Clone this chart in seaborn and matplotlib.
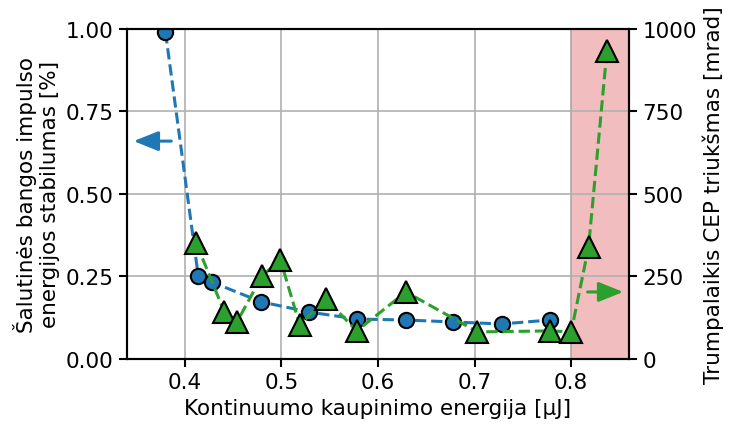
import matplotlib
matplotlib.use("Agg")
import matplotlib.pyplot as plt
import seaborn as sns
import numpy as np

# Side-wave pulse energy stability (left axis)
energy_stab = [0.38, 0.414, 0.428, 0.479, 0.529, 0.578, 0.629, 0.678, 0.728, 0.778]
stability = [0.99, 0.25, 0.233, 0.173, 0.142, 0.121, 0.118, 0.112, 0.106, 0.118]

# Short-term CEP noise (right axis)
energy_cep = [0.412, 0.441, 0.454, 0.480, 0.499, 0.519, 0.546, 0.578, 0.629,
              0.703, 0.778, 0.800, 0.818, 0.837]
cep_noise = [350, 142, 112, 252, 300, 103, 182, 85, 203, 82, 85, 82, 339, 933]

left_ticks = [0.00, 0.25, 0.50, 0.75, 1.00]
right_ticks = [0, 250, 500, 750, 1000]
x_ticks = [0.4, 0.5, 0.6, 0.7, 0.8]

blue = "#1f77b4"
green = "#2ca02c"

plt.rcParams["font.family"] = ["DejaVu Sans"]
plt.rcParams["font.size"] = 15.5

fig = plt.figure(figsize=(7.29, 4.27), dpi=100)
ax = fig.add_axes([0.174, 0.157, 0.689, 0.773])
ax2 = ax.twinx()

ax.grid(True, color="#b0b0b0", lw=1.2)
ax.axvspan(0.8, 0.86, color="tab:red", alpha=0.3, lw=1.2)

sns.lineplot(x=energy_stab, y=stability, ax=ax, sort=False, estimator=None,
             color=blue, linestyle="--", lw=2.2, marker="o", markersize=11,
             markeredgecolor="black", markeredgewidth=1.5)
sns.lineplot(x=energy_cep, y=cep_noise, ax=ax2, sort=False, estimator=None,
             color=green, linestyle="--", lw=2.2, marker="^", markersize=16,
             markeredgecolor="black", markeredgewidth=1.5)

arrow = dict(arrowstyle="-|>,head_length=0.75,head_width=0.3",
             lw=2.2, mutation_scale=20, shrinkA=0, shrinkB=0)
ax.annotate("", xy=(0.347, 0.66), xytext=(0.386, 0.66),
            arrowprops=dict(color=blue, **arrow))
ax2.annotate("", xy=(0.854, 203), xytext=(0.817, 203),
             arrowprops=dict(color=green, **arrow))

ax.set_xlim(0.34, 0.86)
ax.set_ylim(0, 1)
ax2.set_ylim(0, 1000)
ax.set_xticks(x_ticks)
ax.set_xticklabels([f"{t:.1f}" for t in x_ticks])
ax.set_yticks(left_ticks)
ax.set_yticklabels([f"{t:.2f}" for t in left_ticks])
ax2.set_yticks(right_ticks)
ax2.set_yticklabels([str(t) for t in right_ticks])

ax.set_xlabel("Kontinuumo kaupinimo energija [µJ]")
ax.set_ylabel("Šalutinės bangos impulso\nenergijos stabilumas [%]")
ax2.set_ylabel("Trumpalaikis CEP triukšmas [mrad]")

for a in (ax, ax2):
    for s in a.spines.values():
        s.set_linewidth(1.5)
    a.tick_params(length=6, width=1.5, labelsize=15.5)

fig.savefig("out.png", dpi=100)
